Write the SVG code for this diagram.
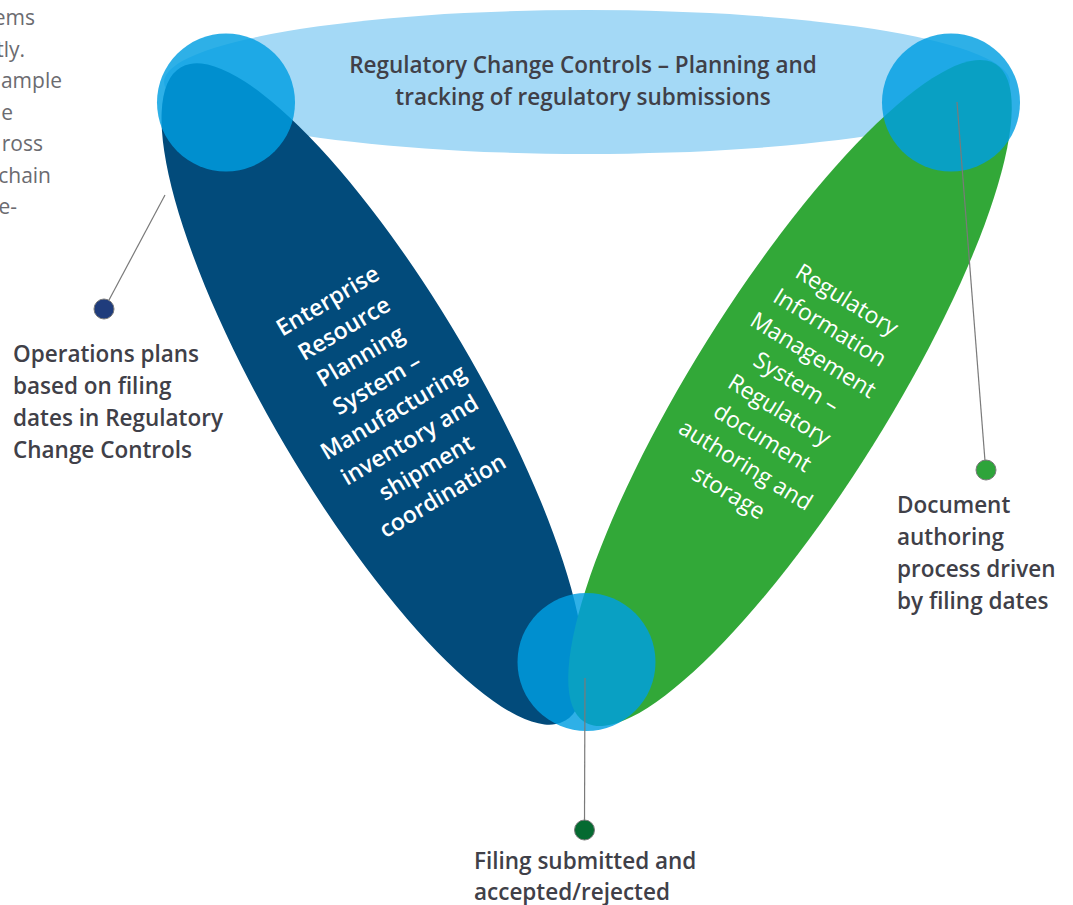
<svg xmlns="http://www.w3.org/2000/svg" width="1073" height="905" viewBox="0 0 1073 905">
<style>
.lbl{font-family:"Open Sans","Liberation Sans",sans-serif;font-weight:600;font-size:22.5px;fill:#404048}
.frag{font-family:"Open Sans","Liberation Sans",sans-serif;font-weight:400;font-size:21px;fill:#6b6b70;text-anchor:end}
.rot{font-family:"Open Sans","Liberation Sans",sans-serif;font-size:23px;fill:#ffffff;text-anchor:middle}
.hub{fill:#009fe2;fill-opacity:0.82}
.conn{stroke:#7a7a7a;stroke-width:1.2;fill:none}
.dot{stroke:#7a7a7a;stroke-width:1}
</style>
<rect width="1073" height="905" fill="#ffffff"/>
<g id="intro-fragment">
<text class="frag" x="35" y="25">ems</text>
<text class="frag" x="25" y="56.5">tly.</text>
<text class="frag" x="62" y="88">ample</text>
<text class="frag" x="13" y="119.5">e</text>
<text class="frag" x="43" y="151">ross</text>
<text class="frag" x="51" y="182.5">chain</text>
<text class="frag" x="17" y="214">ne-</text>
</g>
<g id="node-rcc">
<ellipse cx="587" cy="82" rx="423" ry="72" fill="#a4d9f6"/>
</g>
<g id="node-erp">
<ellipse cx="0" cy="0" rx="379" ry="102" fill="#024b7b" transform="translate(373,394) rotate(59.5)"/>
<g transform="translate(385,398) rotate(-30.5)" class="rot" font-weight="600">
<text x="0" y="-105">Enterprise</text>
<text x="0" y="-72.7">Resource</text>
<text x="0" y="-40.4">Planning</text>
<text x="0" y="-8.1">System –</text>
<text x="0" y="24.2">Manufacturing</text>
<text x="0" y="56.5">inventory and</text>
<text x="0" y="88.8">shipment</text>
<text x="0" y="121.1">coordination</text>
</g>
</g>
<g id="node-rim">
<ellipse cx="0" cy="0" rx="388" ry="98" fill="#32a838" transform="translate(790,393) rotate(-58)"/>
<g transform="translate(788,396) rotate(31.5)" class="rot" font-weight="500">
<text x="0" y="-105">Regulatory</text>
<text x="0" y="-72.7">Information</text>
<text x="0" y="-40.4">Management</text>
<text x="0" y="-8.1">System –</text>
<text x="0" y="24.2">Regulatory</text>
<text x="0" y="56.5">document</text>
<text x="0" y="88.8">authoring and</text>
<text x="0" y="121.1">storage</text>
</g>
</g>
<g id="node-hub-topleft"><circle class="hub" cx="226" cy="102.5" r="69"/></g>
<g id="node-hub-topright"><circle class="hub" cx="951" cy="102.5" r="69"/></g>
<g id="node-hub-bottom"><circle class="hub" cx="586.5" cy="662" r="69"/></g>
<g id="node-rcc-label">
<text class="lbl" x="583" y="73" text-anchor="middle">Regulatory Change Controls – Planning and</text>
<text class="lbl" x="583" y="105" text-anchor="middle">tracking of regulatory submissions</text>
</g>
<g id="connectors">
<line class="conn" x1="165" y1="195" x2="109" y2="300"/>
<line class="conn" x1="957" y1="102" x2="985" y2="461"/>
<line class="conn" x1="585" y1="678" x2="584.5" y2="820"/>
</g>
<g id="node-ops">
<circle class="dot" cx="104" cy="309" r="10" fill="#1f3c7c"/>
<text class="lbl" x="13" y="362">Operations plans</text>
<text class="lbl" x="13" y="394">based on filing</text>
<text class="lbl" x="13" y="426">dates in Regulatory</text>
<text class="lbl" x="13" y="458">Change Controls</text>
</g>
<g id="node-doc">
<circle class="dot" cx="986" cy="470" r="10" fill="#2ea43a"/>
<text class="lbl" x="897" y="513">Document</text>
<text class="lbl" x="897" y="545">authoring</text>
<text class="lbl" x="897" y="577">process driven</text>
<text class="lbl" x="897" y="609">by filing dates</text>
</g>
<g id="node-filing">
<circle class="dot" cx="584.5" cy="830" r="10" fill="#056a31"/>
<text class="lbl" x="474" y="869">Filing submitted and</text>
<text class="lbl" x="474" y="900">accepted/rejected</text>
</g>
</svg>
